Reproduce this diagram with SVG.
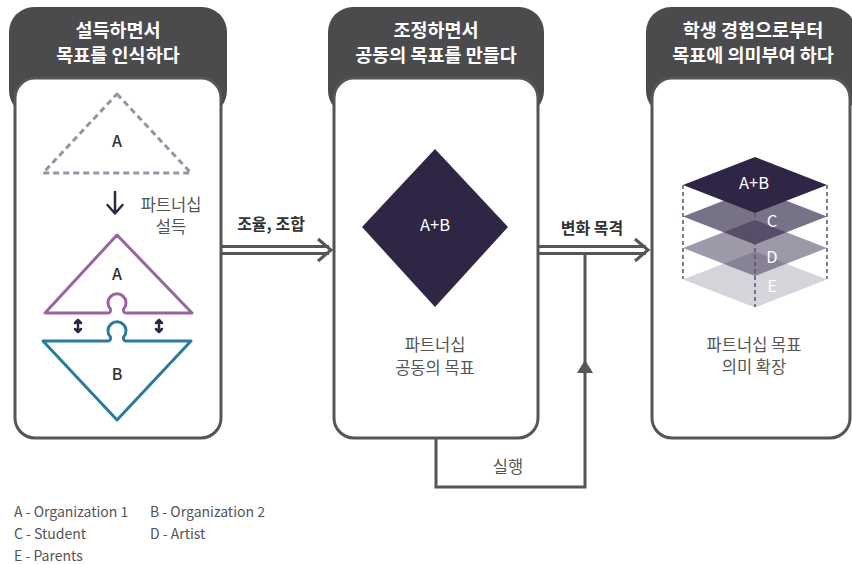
<svg xmlns="http://www.w3.org/2000/svg" width="852" height="564" viewBox="0 0 852 564">
<style>
.hdr{fill:#4b4b4d}
.card{fill:#fff;stroke:#555;stroke-width:3}
.ht{font-family:"Noto Sans CJK KR","Noto Sans",sans-serif;font-size:18.5px;font-weight:700;fill:#fff;text-anchor:middle}
.bt{font-family:"Noto Sans CJK KR","Noto Sans",sans-serif;font-size:16.5px;fill:#555;text-anchor:middle}
.lb{font-family:"Noto Sans CJK KR","Noto Sans",sans-serif;font-size:16px;font-weight:700;fill:#333;text-anchor:middle}
.let{font-family:"Noto Sans CJK KR","Noto Sans",sans-serif;font-size:16px;font-weight:500;fill:#333;text-anchor:middle}
.wt{font-family:"Noto Sans CJK KR","Noto Sans",sans-serif;font-size:16.5px;fill:#fff;text-anchor:middle}
.lg{font-family:"Noto Sans CJK KR","Noto Sans",sans-serif;font-size:14px;fill:#555}
.ln{fill:none;stroke:#555;stroke-width:3}
.dash{fill:none;stroke:#5a5070;stroke-width:1.5;stroke-dasharray:4 3}
.nv{fill:none;stroke:#2f2646;stroke-width:2.5;stroke-linecap:round;stroke-linejoin:round}
</style>

<g id="card-persuade">
<path class="hdr" d="M9,32 A25,25 0 0 1 34,7 H202 A25,25 0 0 1 227,32 V90 Q227,100 221,107 H15 Q9,100 9,90 Z"/>
<rect class="card" x="15" y="78" width="206" height="360" rx="20"/>
<text class="ht" x="118" y="37">설득하면서</text>
<text class="ht" x="118" y="62">목표를 인식하다</text>
<path d="M117,94 L191,173 L43,173 Z" fill="none" stroke="#9b90a6" stroke-width="3" stroke-dasharray="6 4" stroke-linejoin="round"/>
<text class="let" x="117" y="147">A</text>
<path class="nv" d="M115,192 V213 M107.5,205 L115,213.5 L122.5,205" stroke-width="4.5"/>
<text class="bt" x="171" y="211">파트너십</text>
<text class="bt" x="171" y="233">설득</text>
<path d="M45,313 L108,313 Q111,313 110.5,309 A9,9 0 1 1 123.5,309 Q123,313 126,313 L192,313 L117,235 Z" fill="none" stroke="#9a64a0" stroke-width="3" stroke-linejoin="round"/>
<text class="let" x="117" y="280">A</text>
<path d="M43,341 L108,341 Q111,341 110.5,337 A9,9 0 1 1 123.5,337 Q123,341 126,341 L191,341 L117,420 Z" fill="none" stroke="#2a7b9b" stroke-width="3" stroke-linejoin="round"/>
<text class="let" x="117" y="380">B</text>
<path class="nv" d="M78,320 V332 M75,323 L78,320 L81,323 M75,329 L78,332 L81,329" stroke-width="2.2"/>
<path class="nv" d="M159,320 V332 M156,323 L159,320 L162,323 M156,329 L159,332 L162,329" stroke-width="2.2"/>
</g>

<g id="card-common">
<path class="hdr" d="M328,32 A25,25 0 0 1 353,7 H519 A25,25 0 0 1 544,32 V90 Q544,100 538,107 H334 Q328,100 328,90 Z"/>
<rect class="card" x="334" y="78" width="204" height="360" rx="20"/>
<text class="ht" x="436" y="37">조정하면서</text>
<text class="ht" x="436" y="62">공동의 목표를 만들다</text>
<path d="M435,149 L508,227 L435,307 L362,227 Z" fill="#2f2646"/>
<text class="wt" x="435" y="231">A+B</text>
<text class="bt" x="435" y="351">파트너십</text>
<text class="bt" x="435" y="374">공동의 목표</text>
</g>

<g id="card-meaning">
<path class="hdr" d="M646,32 A25,25 0 0 1 671,7 H831 A25,25 0 0 1 856,32 V90 Q856,100 850,107 H652 Q646,100 646,90 Z"/>
<rect class="card" x="652" y="78" width="198" height="360" rx="20"/>
<text class="ht" x="753" y="37">학생 경험으로부터</text>
<text class="ht" x="753" y="62">목표에 의미부여 하다</text>
<path d="M755,251.5 L827,279.5 L755,307.5 L683,279.5 Z" fill="#2f2646" fill-opacity="0.2"/>
<path d="M755,220 L827,248 L755,276 L683,248 Z" fill="#2f2646" fill-opacity="0.47"/>
<path d="M755,188.5 L827,216.5 L755,244.5 L683,216.5 Z" fill="#2f2646" fill-opacity="0.65"/>
<path d="M755,157 L827,185 L755,213 L683,185 Z" fill="#2f2646"/>
<path class="dash" d="M683,185 V279 M755,213 V307 M827,185 V279"/>
<text class="wt" x="754" y="189">A+B</text>
<text class="wt" x="772" y="227">C</text>
<text class="wt" x="772" y="263">D</text>
<text class="wt" x="772" y="292">E</text>
<text class="bt" x="754" y="351">파트너십 목표</text>
<text class="bt" x="754" y="373">의미 확장</text>
</g>

<g id="connectors">
<path class="ln" d="M221,246.5 H329 M221,253.5 H329"/>
<path class="ln" d="M318,239 L331,250 L318,261" stroke-linejoin="miter"/>
<text class="lb" x="271" y="230">조율, 조합</text>
<path class="ln" d="M538,246.5 H646 M538,253.5 H646"/>
<path class="ln" d="M635,239 L648,250 L635,261" stroke-linejoin="miter"/>
<text class="lb" x="592" y="234">변화 목격</text>
<path class="ln" d="M436,438 V487 H585 V253.5"/>
<path d="M585,360 L577,373 L593,373 Z" fill="#555"/>
<text class="bt" x="508" y="473">실행</text>
</g>

<g id="legend">
<text class="lg" x="14" y="517">A - Organization 1</text>
<text class="lg" x="150" y="517">B - Organization 2</text>
<text class="lg" x="14" y="539">C - Student</text>
<text class="lg" x="150" y="539">D - Artist</text>
<text class="lg" x="14" y="561">E - Parents</text>
</g>
</svg>
